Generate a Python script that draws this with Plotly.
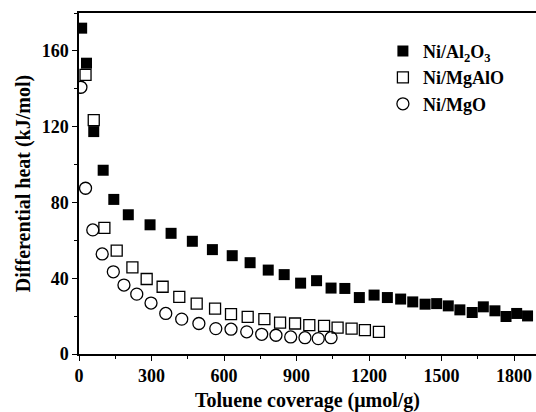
import plotly.graph_objects as go

# Ni/Al2O3 (filled squares)
al_x = [11, 31, 61, 100, 144, 204, 294, 381, 469, 552, 634, 708, 783, 849, 917, 983,
        1043, 1100, 1160, 1221, 1276, 1331, 1381, 1432, 1480, 1528, 1576, 1627, 1673,
        1721, 1767, 1811, 1856]
al_y = [172, 153.5, 117.4, 97, 81.6, 73.5, 68.2, 63.7, 59.5, 55.1, 51.9, 48.2, 44.3,
        41.9, 37.4, 38.7, 34.8, 34.6, 29.8, 31.1, 29.8, 29.0, 27.5, 26.3, 26.6, 25.4,
        23.3, 21.9, 24.9, 22.8, 19.8, 21.4, 20.1]

# Ni/MgAlO (open squares)
mgal_x = [27, 61, 105, 156, 221, 280, 346, 415, 487, 563, 629, 698, 767, 832, 894,
          953, 1014, 1070, 1128, 1183, 1241]
mgal_y = [147.3, 123.5, 66.6, 54.6, 45.7, 39.6, 35.5, 30.2, 26.6, 24.0, 21.0, 19.6,
          18.4, 16.6, 16.1, 15.2, 14.8, 13.9, 13.4, 12.6, 11.7]

# Ni/MgO (open circles)
mg_x = [8, 27, 57, 96, 142, 186, 239, 298, 359, 425, 496, 566, 629, 694, 756, 815,
        876, 935, 990, 1043]
mg_y = [140.8, 87.5, 65.5, 52.8, 43.4, 36.4, 31.6, 26.9, 21.4, 18.4, 16.1, 13.4,
        13.1, 11.7, 10.4, 9.9, 9.0, 8.6, 8.1, 8.6]

x_ticks = [0, 300, 600, 900, 1200, 1500, 1800]
y_ticks = [0, 40, 80, 120, 160]

SERIF = "Liberation Serif, Times New Roman, serif"

fig = go.Figure()
fig.add_trace(go.Scatter(x=al_x, y=al_y, mode="markers", name="Ni/Al<sub>2</sub>O<sub>3</sub>",
                         marker=dict(symbol="square", size=11, color="black",
                                     line=dict(width=0))))
fig.add_trace(go.Scatter(x=mgal_x, y=mgal_y, mode="markers", name="Ni/MgAlO",
                         marker=dict(symbol="square-open", size=11, color="black",
                                     line=dict(width=1.3, color="black"))))
fig.add_trace(go.Scatter(x=mg_x, y=mg_y, mode="markers", name="Ni/MgO",
                         marker=dict(symbol="circle-open", size=12, color="black",
                                     line=dict(width=1.3, color="black"))))

axis_common = dict(
    showgrid=False, zeroline=False, showline=True, linecolor="black", linewidth=1.5,
    ticks="outside", ticklen=5, tickwidth=1.3, tickcolor="black",
    tickfont=dict(family=SERIF, size=18, color="black", weight="bold"),
)

fig.update_layout(
    width=536, height=412,
    margin=dict(l=79, r=0, t=13, b=58),
    paper_bgcolor="white", plot_bgcolor="white",
    font=dict(family=SERIF, color="black"),
    showlegend=True,
    legend=dict(x=0.665, y=0.942, xanchor="left", yanchor="top",
                bgcolor="rgba(0,0,0,0)", borderwidth=0, itemwidth=30,
                font=dict(family=SERIF, size=18, color="black", weight="bold"),
                tracegroupgap=0),
    xaxis=dict(
        range=[0, 1891], tickvals=x_ticks, mirror=True,
        minor=dict(dtick=150, ticks="outside", ticklen=3, tickwidth=1.2, tickcolor="black"),
        title=dict(text="Toluene coverage (μmol/g)", standoff=8,
                   font=dict(family=SERIF, size=20, color="black", weight="bold")),
        **axis_common),
    yaxis=dict(
        range=[0, 180], tickvals=y_ticks,
        minor=dict(dtick=20, ticks="outside", ticklen=3, tickwidth=1.2, tickcolor="black"),
        title=dict(text="Differential heat (kJ/mol)", standoff=6,
                   font=dict(family=SERIF, size=20, color="black", weight="bold")),
        **axis_common),
)

fig.write_html("out.html")
